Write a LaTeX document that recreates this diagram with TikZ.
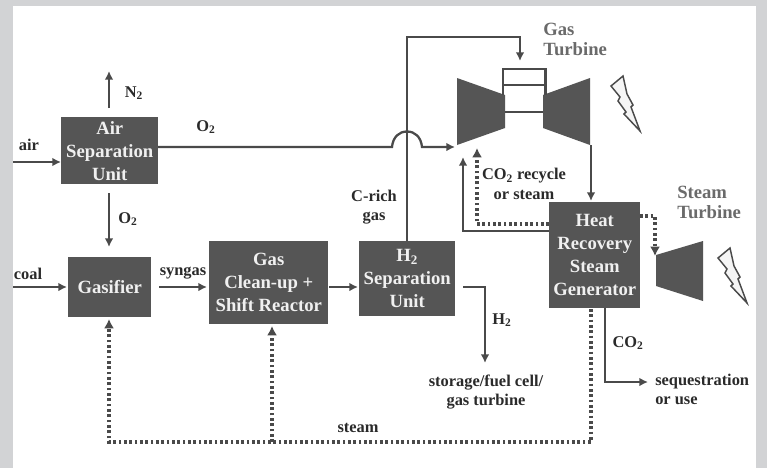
\documentclass[tikz,border=0pt]{standalone}
\usepackage{fontspec}
\setmainfont{Liberation Serif}
\usetikzlibrary{arrows.meta}
\definecolor{panel}{HTML}{D2D3D5}
\definecolor{boxfill}{HTML}{555555}
\definecolor{ink}{HTML}{4A4A4A}
\definecolor{lbl}{HTML}{2A2A2A}
\definecolor{greylbl}{HTML}{6A6A6A}
\tikzset{
  x=0.75pt,y=-0.75pt,
  unit/.style={fill=boxfill,draw=none,inner sep=0pt,text=white!94!black,align=center,font=\fontsize{14}{17.2}\selectfont\bfseries},
  lab/.style={inner sep=0pt,text=lbl,font=\fontsize{12.3}{14.7}\selectfont\bfseries,align=center},
  glab/.style={inner sep=0pt,text=greylbl,font=\fontsize{14}{15}\selectfont\bfseries,align=left},
  flow/.style={draw=ink,line width=1.7pt,-{Latex[length=6.5pt,width=6.5pt]}},
  plainflow/.style={draw=ink,line width=1.7pt},
  steamflow/.style={draw=ink,line width=2.5pt,dash pattern=on 2pt off 2pt},
  steamtip/.style={steamflow,-{Latex[length=7pt,width=7.5pt]}},
  machine/.style={fill=boxfill,draw=none},
  bolt/.style={draw=ink,line width=1.1pt,fill=white!96!black,line join=miter},
  pics/zap/.style={code={\draw[bolt] (0,0) -- (-12,10) -- (-3,21) -- (-5,25) -- (3,36) -- (1,38) -- (17,55) -- (8,31) -- (10,29) -- (4,18) -- cycle;}},
}
\newcommand{\unitbox}[6]{\node[unit,minimum width=#4*0.75pt-#2*0.75pt,minimum height=#5*0.75pt-#3*0.75pt,anchor=north west] (#1) at (#2,#3) {#6};}
\begin{document}
\begin{tikzpicture}
\useasboundingbox (0,0) rectangle (767,468);
\fill[panel] (0,0) rectangle (767,468);
\fill[white] (13,6) rectangle (756,468);

\unitbox{asu}{61}{117}{158}{184}{Air\\Separation\\Unit}
\unitbox{gasifier}{68}{257}{151}{317}{Gasifier}
\unitbox{cleanup}{209}{241}{328}{324}{Gas\\Clean-up +\\Shift Reactor}
\unitbox{hsep}{359}{241}{455}{316}{H\textsubscript{2}\\Separation\\Unit}
\unitbox{hrsg}{549}{202}{640}{308}{Heat\\Recovery\\Steam\\Generator}

% gas turbine
\fill[machine] (457,78) -- (505,95) -- (505,128) -- (457,145) -- cycle;
\fill[machine] (590,78) -- (543,95) -- (543,128) -- (590,145) -- cycle;
\draw[plainflow] (503,95) -- (503,69) -- (545.5,69) -- (545.5,95);
\draw[plainflow] (503,85) -- (545.5,85);
\draw[plainflow] (505,112) -- (543,112);
\coordinate (gtFuel) at (520,61);
\coordinate (gtAir) at (455,147);
\coordinate (gtOut) at (591,145);
% steam turbine
\fill[machine] (656,255) -- (703,241) -- (703,301) -- (656,286) -- cycle;
\coordinate (stIn) at (655,256);

% bolts
\pic at (623,76) {zap};
\pic at (730,248) {zap};

% free ends
\coordinate (airIn) at (13,162);
\coordinate (coalIn) at (13,287);
\coordinate (n2Out) at (109,71);
\coordinate (h2End) at (485,363);
\coordinate (seqEnd) at (648,382);

% solid connectors
\draw[flow] (airIn) -- (61,162);
\draw[flow] (coalIn) -- (67,287);
\draw[flow] (109,108) -- (n2Out);
\draw[flow] (109,193) -- (109,247);
\draw[flow] (159,287) -- (207,287);
\draw[flow] (329,287) -- (358,287);
\draw[flow] (407,241) -- (407,37) -- (520,37) -- (gtFuel);
\draw[flow] (158,147) -- (392,147) .. controls (393,137) and (399,131.5) .. (407,131.5) .. controls (415,131.5) and (421,137) .. (422,147) -- (gtAir);
\draw[flow] (gtOut) -- (591,201);
\draw[flow] (463,287) -- (485,287) -- (h2End);
\draw[flow] (605,308) -- (605,382) -- (seqEnd);
\draw[flow] (549,231) -- (463,231) -- (463,157);

% steam (dotted) connectors
\draw[steamtip] (549,224) -- (477,224) -- (477,148);
\draw[steamtip] (640,216) -- (655,216) -- (stIn);
\draw[steamtip] (591,309) -- (591,442) -- (109,442) -- (109,319);
\draw[steamtip] (272,442) -- (272,326);

% labels
\node[lab] (lN) at (134,93) {N\textsubscript{2}};
\node[lab] (lOa) at (206,127) {O\textsubscript{2}};
\node[lab] (lOb) at (128,219) {O\textsubscript{2}};
\node[lab] (lAir) at (29,145) {air};
\node[lab] (lCoal) at (28,274) {coal};
\node[lab] (lSyn) at (183,273) {syngas};
\node[lab] (lSteam) at (358,428) {steam};
\node[lab] (lC) at (374,207) {C-rich\\gas};
\node[lab] (lH) at (502,320) {H\textsubscript{2}};
\node[lab] (lStore) at (486,392) {storage/fuel cell/\\gas turbine};
\node[lab,align=left,anchor=west] (lSeq) at (655,389.5) {sequestration\\or use};
\node[lab] (lCOb) at (628,343) {CO\textsubscript{2}};
\node[lab] (lRec) at (524,184) {CO\textsubscript{2} recycle\\or steam};
\node[glab,anchor=west] (lGT) at (543,39) {Gas\\Turbine};
\node[glab,anchor=west] (lST) at (677,202) {Steam\\Turbine};
\end{tikzpicture}
\end{document}
